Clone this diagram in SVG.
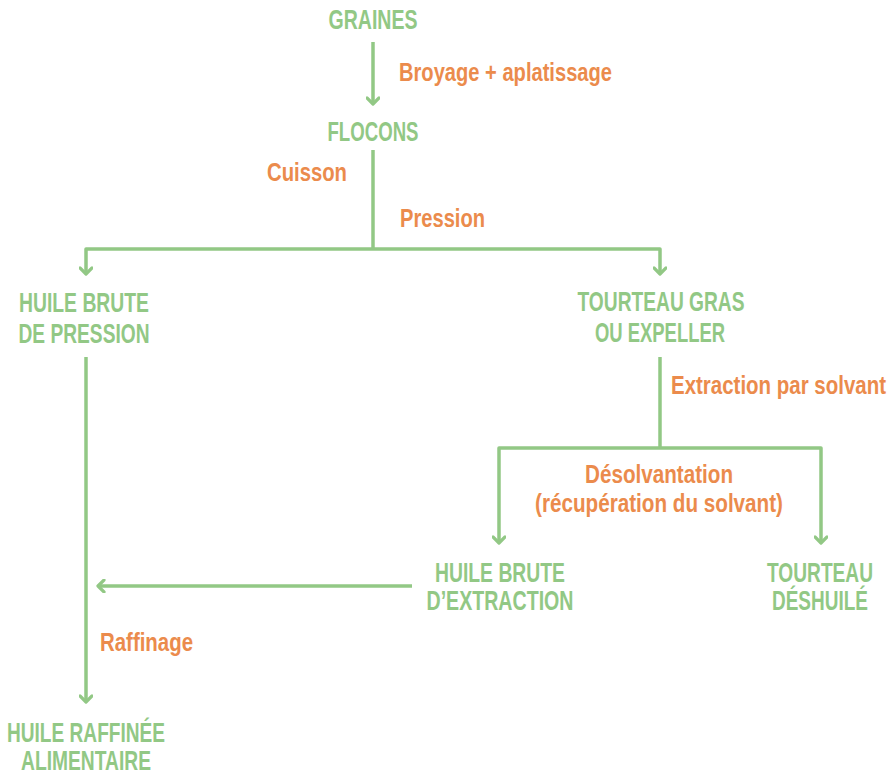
<svg xmlns="http://www.w3.org/2000/svg" width="890" height="777" viewBox="0 0 890 777">
<style>
.n{font-family:"Liberation Sans",Arial,sans-serif;font-weight:bold;font-size:28px;fill:#92c885;text-anchor:middle}
.l{font-family:"Liberation Sans",Arial,sans-serif;font-weight:bold;font-size:26px;fill:#eb8b4c}
.c{fill:none;stroke:#92c885;stroke-width:3.5;stroke-linejoin:round}
</style>
<defs>
<marker id="ah" viewBox="0 0 14 14" refX="12" refY="7" markerWidth="14" markerHeight="14" markerUnits="userSpaceOnUse" orient="auto">
<path d="M6,1 L12,7 L6,13" fill="none" stroke="#92c885" stroke-width="3.2" stroke-linecap="round" stroke-linejoin="round"/>
</marker>
</defs>
<rect width="890" height="777" fill="#ffffff"/>
<g id="connectors">
<path class="c" d="M373,42 V104" marker-end="url(#ah)"/>
<path class="c" d="M373,150 V249"/>
<path class="c" d="M373,249 H86 V274" marker-end="url(#ah)"/>
<path class="c" d="M373,249 H660 V274" marker-end="url(#ah)"/>
<path class="c" d="M660,357 V448"/>
<path class="c" d="M660,448 H499 V543" marker-end="url(#ah)"/>
<path class="c" d="M660,448 H821 V543" marker-end="url(#ah)"/>
<path class="c" d="M86,357 V702" marker-end="url(#ah)"/>
<path class="c" d="M412,586 H98" marker-end="url(#ah)"/>
</g>
<g id="graines"><text class="n" x="373" y="29" textLength="89" lengthAdjust="spacingAndGlyphs">GRAINES</text></g>
<g id="broyage"><text class="l" x="399" y="81" textLength="213" lengthAdjust="spacingAndGlyphs">Broyage + aplatissage</text></g>
<g id="flocons"><text class="n" x="373" y="141" textLength="91" lengthAdjust="spacingAndGlyphs">FLOCONS</text></g>
<g id="cuisson"><text class="l" x="267" y="181" textLength="80" lengthAdjust="spacingAndGlyphs">Cuisson</text></g>
<g id="pression"><text class="l" x="400" y="227" textLength="85" lengthAdjust="spacingAndGlyphs">Pression</text></g>
<g id="huile-brute-pression">
<text class="n" x="84" y="312" textLength="130" lengthAdjust="spacingAndGlyphs">HUILE BRUTE</text>
<text class="n" x="84" y="343" textLength="131" lengthAdjust="spacingAndGlyphs">DE PRESSION</text>
</g>
<g id="tourteau-gras">
<text class="n" x="661" y="311" textLength="167" lengthAdjust="spacingAndGlyphs">TOURTEAU GRAS</text>
<text class="n" x="660" y="342" textLength="130" lengthAdjust="spacingAndGlyphs">OU EXPELLER</text>
</g>
<g id="extraction"><text class="l" x="671" y="394" textLength="215" lengthAdjust="spacingAndGlyphs">Extraction par solvant</text></g>
<g id="desolvantation">
<text class="l" x="659" y="483" text-anchor="middle" textLength="148" lengthAdjust="spacingAndGlyphs">Désolvantation</text>
<text class="l" x="659" y="512" text-anchor="middle" textLength="248" lengthAdjust="spacingAndGlyphs">(récupération du solvant)</text>
</g>
<g id="huile-brute-extraction">
<text class="n" x="500" y="582" textLength="130" lengthAdjust="spacingAndGlyphs">HUILE BRUTE</text>
<text class="n" x="500" y="610" textLength="147" lengthAdjust="spacingAndGlyphs">D’EXTRACTION</text>
</g>
<g id="tourteau-deshuile">
<text class="n" x="820" y="582" textLength="106" lengthAdjust="spacingAndGlyphs">TOURTEAU</text>
<text class="n" x="820" y="610" textLength="96" lengthAdjust="spacingAndGlyphs">DÉSHUILÉ</text>
</g>
<g id="raffinage"><text class="l" x="100" y="651" textLength="93" lengthAdjust="spacingAndGlyphs">Raffinage</text></g>
<g id="huile-raffinee">
<text class="n" x="86" y="742" textLength="158" lengthAdjust="spacingAndGlyphs">HUILE RAFFINÉE</text>
<text class="n" x="86" y="770" textLength="130" lengthAdjust="spacingAndGlyphs">ALIMENTAIRE</text>
</g>
</svg>
